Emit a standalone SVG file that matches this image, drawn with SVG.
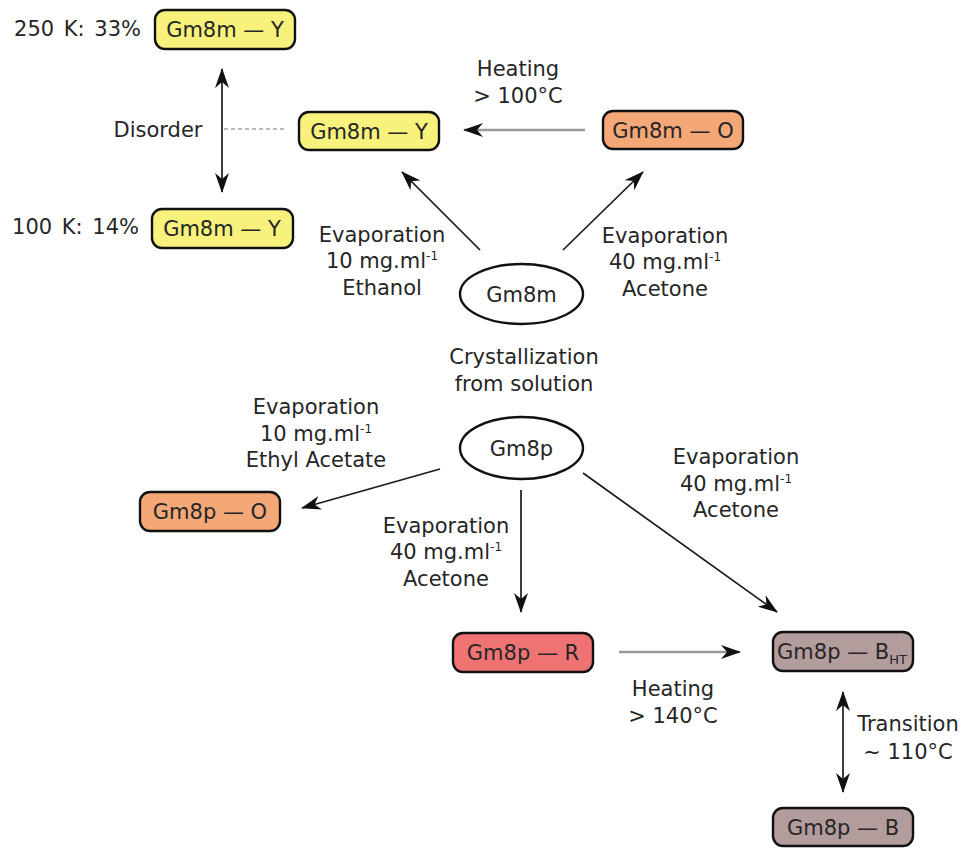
<svg xmlns="http://www.w3.org/2000/svg" width="962" height="848" viewBox="0 0 962 848">
<style>
text{font-family:"DejaVu Sans",Verdana,sans-serif;font-size:21px;fill:#262626}
.c{text-anchor:middle}
.ws{word-spacing:3px}
.box{stroke:#111;stroke-width:2.4}
.y{fill:#f8f27c}.o{fill:#f4a777}.r{fill:#f07373}.b{fill:#b39c9c}
.ell{fill:#fff;stroke:#111;stroke-width:2.4}
.ln{stroke:#1a1a1a;stroke-width:1.7;fill:none}
.gl{stroke:#999;stroke-width:2.6;fill:none}
.sup{font-size:12px}
</style>
<defs>
<marker id="ah" viewBox="0 0 20 14" refX="19" refY="7" markerWidth="20" markerHeight="14" markerUnits="userSpaceOnUse" orient="auto-start-reverse">
<path d="M0,0 L20,7 L0,14 L6,7 z" fill="#111"/>
</marker>
</defs>

<g id="connectors">
<line class="ln" x1="222" y1="69" x2="222" y2="192" marker-start="url(#ah)" marker-end="url(#ah)"/>
<line x1="224" y1="129" x2="284" y2="129" stroke="#777" stroke-width="1.2" stroke-dasharray="4,3"/>
<line class="gl" x1="585" y1="130" x2="464" y2="130" marker-end="url(#ah)"/>
<line class="ln" x1="480" y1="250" x2="402" y2="172" marker-end="url(#ah)"/>
<line class="ln" x1="563" y1="250" x2="643" y2="172" marker-end="url(#ah)"/>
<line class="ln" x1="440" y1="469" x2="302" y2="508" marker-end="url(#ah)"/>
<line class="ln" x1="521" y1="490" x2="521" y2="612" marker-end="url(#ah)"/>
<line class="ln" x1="583" y1="473" x2="777" y2="612" marker-end="url(#ah)"/>
<line class="gl" x1="619" y1="652" x2="740" y2="652" marker-end="url(#ah)"/>
<line class="ln" x1="843" y1="692" x2="843" y2="792" marker-start="url(#ah)" marker-end="url(#ah)"/>
</g>

<g id="labels">
<text class="ws" x="141" y="36" text-anchor="end">250 K: 33%</text>
<text class="ws" x="139" y="234" text-anchor="end">100 K: 14%</text>
<text class="c" x="158" y="137">Disorder</text>
<text class="c" x="518" y="76">Heating</text>
<text class="c" x="518" y="103">&gt; 100°C</text>
<text class="c" x="382" y="242">Evaporation</text>
<text class="c" x="382" y="268">10 mg.ml<tspan class="sup" dy="-8">-1</tspan></text>
<text class="c" x="382" y="295">Ethanol</text>
<text class="c" x="665" y="243">Evaporation</text>
<text class="c" x="665" y="269">40 mg.ml<tspan class="sup" dy="-8">-1</tspan></text>
<text class="c" x="665" y="296">Acetone</text>
<text class="c" x="524" y="364">Crystallization</text>
<text class="c" x="524" y="391">from solution</text>
<text class="c" x="316" y="414">Evaporation</text>
<text class="c" x="316" y="441">10 mg.ml<tspan class="sup" dy="-8">-1</tspan></text>
<text class="c" x="316" y="467">Ethyl Acetate</text>
<text class="c" x="446" y="533">Evaporation</text>
<text class="c" x="446" y="559">40 mg.ml<tspan class="sup" dy="-8">-1</tspan></text>
<text class="c" x="446" y="586">Acetone</text>
<text class="c" x="736" y="464">Evaporation</text>
<text class="c" x="736" y="491">40 mg.ml<tspan class="sup" dy="-8">-1</tspan></text>
<text class="c" x="736" y="517">Acetone</text>
<text class="c" x="673" y="696">Heating</text>
<text class="c" x="673" y="723">&gt; 140°C</text>
<text class="c" x="908" y="731">Transition</text>
<text class="c" x="908" y="759">~ 110°C</text>
</g>

<g id="n-y250"><rect class="box y" x="155" y="10" width="140" height="39" rx="10"/><text class="c" x="225" y="37">Gm8m — Y</text></g>
<g id="n-y100"><rect class="box y" x="152" y="209" width="141" height="39" rx="10"/><text class="c" x="222" y="236">Gm8m — Y</text></g>
<g id="n-y"><rect class="box y" x="299" y="112" width="140" height="38" rx="10"/><text class="c" x="369" y="139">Gm8m — Y</text></g>
<g id="n-o"><rect class="box o" x="603" y="111" width="140" height="38" rx="10"/><text class="c" x="673" y="138">Gm8m — O</text></g>
<g id="n-gm8m"><ellipse class="ell" cx="521.5" cy="294" rx="61.5" ry="30"/><text class="c" x="521.5" y="302">Gm8m</text></g>
<g id="n-gm8p"><ellipse class="ell" cx="521.5" cy="448" rx="61.5" ry="31"/><text class="c" x="521.5" y="456">Gm8p</text></g>
<g id="n-po"><rect class="box o" x="140" y="492" width="140" height="39" rx="10"/><text class="c" x="210" y="519">Gm8p — O</text></g>
<g id="n-pr"><rect class="box r" x="453" y="633" width="140" height="39" rx="10"/><text class="c" x="523" y="660">Gm8p — R</text></g>
<g id="n-pbht"><rect class="box b" x="773" y="632" width="140" height="39" rx="10"/><text class="c" x="842" y="659">Gm8p — B<tspan font-size="13" dy="5">HT</tspan></text></g>
<g id="n-pb"><rect class="box b" x="773" y="808" width="140" height="38" rx="10"/><text class="c" x="843" y="835">Gm8p — B</text></g>
</svg>
